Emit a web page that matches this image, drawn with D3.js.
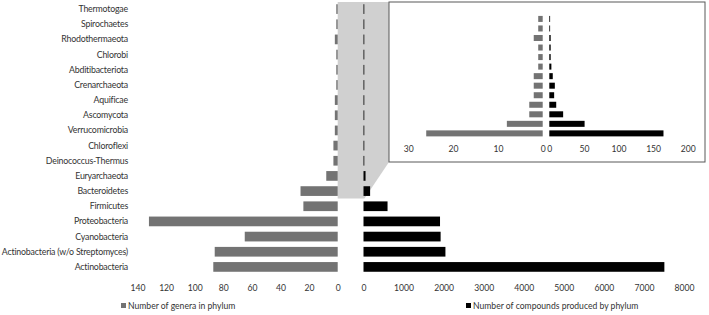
<!DOCTYPE html>
<html lang="en">
<head>
<meta charset="UTF-8">
<script src="https://d3js.org/d3.v7.min.js"></script>
<style>
  body { margin: 0; background: #fff; }
  svg { display: block; font-family: Lato, "Open Sans", sans-serif; }
</style>
</head>
<body>
<svg width="709" height="315"></svg>
<script>
// phyla, top to bottom
const phyla = ['Thermotogae', 'Spirochaetes', 'Rhodothermaeota', 'Chlorobi', 'Abditibacteriota',
  'Crenarchaeota', 'Aquificae', 'Ascomycota', 'Verrucomicrobia', 'Chloroflexi',
  'Deinococcus-Thermus', 'Euryarchaeota', 'Bacteroidetes', 'Firmicutes', 'Proteobacteria',
  'Cyanobacteria', 'Actinobacteria (w/o Streptomyces)', 'Actinobacteria'];
const genera = [1, 1, 2, 1, 1, 1, 2, 2, 2, 3, 3, 8, 26, 24, 132, 65, 86, 87];
const compounds = [1, 1, 2, 2, 2, 3, 5, 8, 7, 10, 20, 51, 165, 600, 1910, 1925, 2045, 7510];
// phyla shown in the zoomed inset
const insetPhyla = phyla.slice(0, 13);

const generaTicks = [140, 120, 100, 80, 60, 40, 20, 0];
const compoundTicks = [0, 1000, 2000, 3000, 4000, 5000, 6000, 7000, 8000];
const insetGeneraTicks = [30, 20, 10, 0];
const insetCompoundTicks = [0, 50, 100, 150, 200];

const legendLabels = ['Number of genera in phylum', 'Number of compounds produced by phylum'];

const grey = '#737373';
const textCol = '#333';

const svg = d3.select('svg');

// main scales
const y = d3.scaleBand().domain(phyla).range([1.5, 274.5]).paddingInner(0.36).paddingOuter(0.18);
const xL = d3.scaleLinear().domain([140, 0]).range([137.5, 337.7]);
const xR = d3.scaleLinear().domain([0, 8000]).range([363.5, 684]);

// inset scales
const box = { x: 389, y: 2, w: 316, h: 160 };
const yI = d3.scaleBand().domain(insetPhyla).range([14.2, 138.1]).paddingInner(0.37).paddingOuter(0.18);
const xIL = d3.scaleLinear().domain([30, 0]).range([408.3, 542.7]);
const xIR = d3.scaleLinear().domain([0, 200]).range([549.3, 687.7]);

// zoom highlight area
const zoomBottom = y('Bacteroidetes') + y.bandwidth() + 2.5;
svg.append('path')
  .attr('d', `M${xL(0)},${box.y} L${box.x},${box.y} L${box.x},${box.y + box.h}
    L${xR(0) + 1},${zoomBottom} L${xL(0)},${zoomBottom} Z`)
  .attr('fill', '#d0d0d0');

// category labels
svg.append('g').selectAll('text')
  .data(phyla).enter().append('text')
  .attr('x', 128)
  .attr('y', d => y(d) + y.bandwidth() / 2)
  .attr('dy', '0.35em')
  .attr('text-anchor', 'end')
  .attr('font-size', 8.8)
  .attr('letter-spacing', -0.2)
  .attr('fill', textCol)
  .text(d => d);

// main bars
svg.append('g').selectAll('rect')
  .data(phyla).enter().append('rect')
  .attr('x', (d, i) => xL(genera[i]))
  .attr('y', d => y(d))
  .attr('width', (d, i) => xL(0) - xL(genera[i]))
  .attr('height', y.bandwidth())
  .attr('fill', grey);

svg.append('g').selectAll('rect')
  .data(phyla).enter().append('rect')
  .attr('x', xR(0))
  .attr('y', d => y(d))
  .attr('width', (d, i) => Math.max(xR(compounds[i]) - xR(0), 0.8))
  .attr('height', y.bandwidth())
  .attr('fill', '#000');

function tickAxis(scale, ticks, yPos) {
  const g = svg.append('g')
    .attr('transform', `translate(0,${yPos})`)
    .call(d3.axisBottom(scale).tickValues(ticks).tickFormat(d3.format('d')).tickSize(0).tickPadding(0));
  g.select('.domain').remove();
  g.selectAll('text').attr('font-size', 8.6).attr('fill', textCol)
    .attr('font-family', 'Lato, sans-serif');
  return g;
}

tickAxis(xL, generaTicks, 285);
tickAxis(xR, compoundTicks, 285);

// inset
svg.append('rect')
  .attr('x', box.x).attr('y', box.y)
  .attr('width', box.w).attr('height', box.h)
  .attr('fill', '#fff')
  .attr('stroke', '#595959')
  .attr('stroke-width', 1);

svg.append('g').selectAll('rect')
  .data(insetPhyla).enter().append('rect')
  .attr('x', (d, i) => xIL(genera[i]))
  .attr('y', d => yI(d))
  .attr('width', (d, i) => xIL(0) - xIL(genera[i]))
  .attr('height', yI.bandwidth())
  .attr('fill', grey);

svg.append('g').selectAll('rect')
  .data(insetPhyla).enter().append('rect')
  .attr('x', xIR(0))
  .attr('y', d => yI(d))
  .attr('width', (d, i) => Math.max(xIR(compounds[i]) - xIR(0), 0.8))
  .attr('height', yI.bandwidth())
  .attr('fill', '#000');

tickAxis(xIL, insetGeneraTicks, 146);
tickAxis(xIR, insetCompoundTicks, 146);

// legend
const legend = svg.append('g').selectAll('g')
  .data(legendLabels).enter().append('g')
  .attr('transform', (d, i) => `translate(${i === 0 ? 121 : 466},303)`);
legend.append('rect')
  .attr('width', 5).attr('height', 5)
  .attr('fill', (d, i) => i === 0 ? grey : '#000');
legend.append('text')
  .attr('x', 7).attr('y', 2.5).attr('dy', '0.35em')
  .attr('font-size', 8.6)
  .attr('fill', textCol)
  .text(d => d);
</script>
</body>
</html>
